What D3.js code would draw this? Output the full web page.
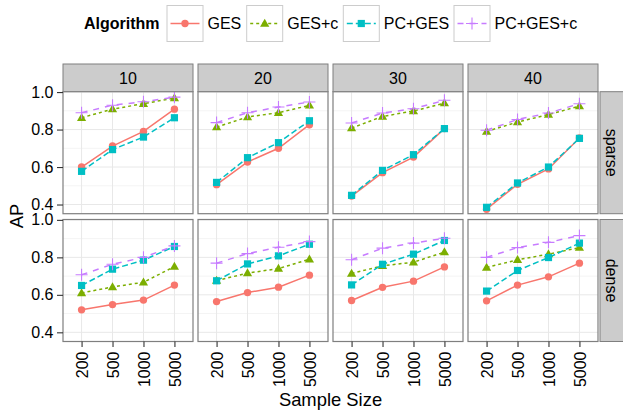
<!DOCTYPE html>
<html><head><meta charset="utf-8">
<script src="https://cdn.jsdelivr.net/npm/d3@7"></script>
<style>body{margin:0;background:#fff}svg{display:block}text{font-family:"Liberation Sans",Arial,Helvetica,sans-serif}</style>
</head><body><svg id="c" width="623" height="416"></svg>
<script>
const sampleSizes = ["200","500","1000","5000"];
const nodeCounts = ["10","20","30","40"];
const densities = ["sparse","dense"];
const algorithms = ["GES","GES+c","PC+GES","PC+GES+c"];
const yTicks = [0.4,0.6,0.8,1.0];
const yMinor = [0.5,0.7,0.9];
const colors = ["#F8766D","#7CAE00","#00BFC4","#C77CFF"];
const dashes = [null,"3,3","6,3","6,6"];
const shapes = ["circle","triangle","square","plus"];

// values[density][nodes][algorithm] -> AP at sample sizes 200,500,1000,5000
const sparse10 = {"GES":[0.60,0.712,0.79,0.909],"GES+c":[0.863,0.909,0.938,0.968],"PC+GES":[0.577,0.693,0.76,0.863],"PC+GES+c":[0.89,0.93,0.948,0.973]};
const sparse20 = {"GES":[0.506,0.627,0.70,0.826],"GES+c":[0.813,0.867,0.89,0.929],"PC+GES":[0.518,0.65,0.73,0.847],"PC+GES+c":[0.837,0.89,0.92,0.947]};
const sparse30 = {"GES":[0.445,0.57,0.653,0.805],"GES+c":[0.808,0.87,0.899,0.941],"PC+GES":[0.449,0.582,0.666,0.805],"PC+GES+c":[0.835,0.888,0.911,0.956]};
const sparse40 = {"GES":[0.375,0.508,0.59,0.755],"GES+c":[0.79,0.84,0.88,0.925],"PC+GES":[0.385,0.515,0.60,0.753],"PC+GES+c":[0.796,0.854,0.888,0.938]};
const dense10 = {"GES":[0.52,0.548,0.572,0.652],"GES+c":[0.61,0.642,0.667,0.751],"PC+GES":[0.65,0.737,0.785,0.858],"PC+GES+c":[0.707,0.763,0.80,0.861]};
const dense20 = {"GES":[0.564,0.612,0.641,0.705],"GES+c":[0.676,0.716,0.74,0.79],"PC+GES":[0.675,0.765,0.808,0.87],"PC+GES+c":[0.769,0.82,0.854,0.884]};
const dense30 = {"GES":[0.57,0.64,0.673,0.749],"GES+c":[0.714,0.755,0.774,0.828],"PC+GES":[0.653,0.763,0.817,0.89],"PC+GES+c":[0.787,0.849,0.876,0.902]};
const dense40 = {"GES":[0.568,0.652,0.696,0.769],"GES+c":[0.746,0.787,0.817,0.852],"PC+GES":[0.62,0.73,0.799,0.876],"PC+GES+c":[0.80,0.852,0.88,0.916]};
const values = {sparse:{"10":sparse10,"20":sparse20,"30":sparse30,"40":sparse40},
                dense:{"10":dense10,"20":dense20,"30":dense30,"40":dense40}};

const svg = d3.select("#c");
const panelX0 = [63,198,333,468], panelW = 130;
const panelY0 = [91.7,219.5], panelH = 122;
const stripH = 27.7;
const FS = 16;

const x = d3.scalePoint().domain(sampleSizes).range([0,panelW]).padding(0.6);
const y = d3.scaleLinear().domain([0.351,1.002]).range([panelH,0]);

function sym(g, shape, color, cx, cy){
  if(shape==="circle") g.append("circle").attr("cx",cx).attr("cy",cy).attr("r",3.7).attr("fill",color);
  else if(shape==="square") g.append("rect").attr("x",cx-3.6).attr("y",cy-3.6).attr("width",7.2).attr("height",7.2).attr("fill",color);
  else if(shape==="triangle") g.append("path").attr("d",`M${cx},${cy-4.8}L${cx+4.6},${cy+3.2}L${cx-4.6},${cy+3.2}Z`).attr("fill",color);
  else { g.append("path").attr("d",`M${cx-6},${cy}H${cx+6}M${cx},${cy-6}V${cy+6}`).attr("stroke",color).attr("stroke-width",1.1).attr("fill","none"); }
}

// Strips top
nodeCounts.forEach((n,i)=>{
  svg.append("rect").attr("x",panelX0[i]).attr("y",panelY0[0]-stripH).attr("width",panelW).attr("height",stripH)
    .attr("fill","#CCCCCC").attr("stroke","#7F7F7F").attr("stroke-width",1);
  svg.append("text").attr("x",panelX0[i]+panelW/2).attr("y",panelY0[0]-stripH/2).attr("dy","0.36em")
    .attr("text-anchor","middle").attr("font-size",FS).text(n);
});
// Strips right
densities.forEach((d,j)=>{
  svg.append("rect").attr("x",600).attr("y",panelY0[j]).attr("width",30).attr("height",panelH)
    .attr("fill","#CCCCCC").attr("stroke","#7F7F7F").attr("stroke-width",1);
  svg.append("text").attr("transform",`translate(612,${panelY0[j]+panelH/2}) rotate(90)`).attr("dy","0.36em")
    .attr("text-anchor","middle").attr("font-size",FS).text(d);
});

densities.forEach((d,j)=>{
  nodeCounts.forEach((n,i)=>{
    const g = svg.append("g").attr("transform",`translate(${panelX0[i]},${panelY0[j]})`);
    g.append("rect").attr("width",panelW).attr("height",panelH).attr("fill","#fff");
    g.selectAll(".mn").data(yMinor).join("line").attr("x1",0).attr("x2",panelW)
      .attr("y1",v=>y(v)).attr("y2",v=>y(v)).attr("stroke","#F4F4F4").attr("stroke-width",1);
    g.selectAll(".mj").data(yTicks).join("line").attr("x1",0).attr("x2",panelW)
      .attr("y1",v=>y(v)).attr("y2",v=>y(v)).attr("stroke","#E8E8E8").attr("stroke-width",1);
    g.selectAll(".vx").data(sampleSizes).join("line").attr("x1",s=>x(s)).attr("x2",s=>x(s))
      .attr("y1",0).attr("y2",panelH).attr("stroke","#E8E8E8").attr("stroke-width",1);
    const line = d3.line().x((v,k)=>x(sampleSizes[k])).y(v=>y(v));
    algorithms.forEach((a,k)=>{
      g.append("path").attr("d",line(values[d][n][a])).attr("fill","none")
        .attr("stroke",colors[k]).attr("stroke-width",1.5).attr("stroke-dasharray",dashes[k]);
    });
    algorithms.forEach((a,k)=>{
      values[d][n][a].forEach((v,m)=>sym(g,shapes[k],colors[k],x(sampleSizes[m]),y(v)));
    });
    g.append("rect").attr("width",panelW).attr("height",panelH).attr("fill","none")
      .attr("stroke","#7F7F7F").attr("stroke-width",1.2);
    if(i===0){
      const ya = svg.append("g").attr("transform",`translate(${panelX0[0]},${panelY0[j]})`)
        .call(d3.axisLeft(y).tickValues(yTicks).tickFormat(d3.format(".1f")).tickSize(6).tickPadding(3.5));
      ya.select(".domain").remove();
      ya.selectAll("line").attr("stroke","#333").attr("stroke-width",1.1);
      ya.selectAll("text").attr("font-size",FS).attr("fill","#000").style("font-family",'"Liberation Sans",Arial,sans-serif');
    }
    if(j===1){
      const xa = svg.append("g").attr("transform",`translate(${panelX0[i]},${panelY0[1]+panelH})`)
        .call(d3.axisBottom(x).tickSize(5.5).tickPadding(4));
      xa.select(".domain").remove();
      xa.selectAll("line").attr("stroke","#333").attr("stroke-width",1.1);
      xa.selectAll("text").attr("font-size",FS).attr("fill","#000").style("font-family",'"Liberation Sans",Arial,sans-serif')
        .attr("transform","rotate(-90)").attr("text-anchor","end").attr("x",-10).attr("y",0).attr("dy","0.36em");
    }
  });
});

// Axis titles
svg.append("text").attr("transform","translate(23,216) rotate(-90)").attr("text-anchor","middle")
  .attr("font-size",18.4).text("AP");
svg.append("text").attr("x",330.5).attr("y",406).attr("text-anchor","middle").attr("font-size",18.4).text("Sample Size");

// Legend
svg.append("text").attr("x",84).attr("y",23.5).attr("dy","0.36em").attr("font-size",FS).attr("font-weight","bold").text("Algorithm");
const keyX = [167,246.7,343.3,454];
algorithms.forEach((a,k)=>{
  const kg = svg.append("g");
  kg.append("rect").attr("x",keyX[k]).attr("y",5.5).attr("width",36).attr("height",36)
    .attr("fill","#fff").attr("stroke","#CCCCCC").attr("stroke-width",1);
  kg.append("line").attr("x1",keyX[k]+3.5).attr("x2",keyX[k]+32.5).attr("y1",23.5).attr("y2",23.5)
    .attr("stroke",colors[k]).attr("stroke-width",1.5).attr("stroke-dasharray",dashes[k]);
  sym(kg,shapes[k],colors[k],keyX[k]+18,23.5);
  kg.append("text").attr("x",keyX[k]+40.5).attr("y",23.5).attr("dy","0.36em").attr("font-size",FS).text(a);
});
</script></body></html>
